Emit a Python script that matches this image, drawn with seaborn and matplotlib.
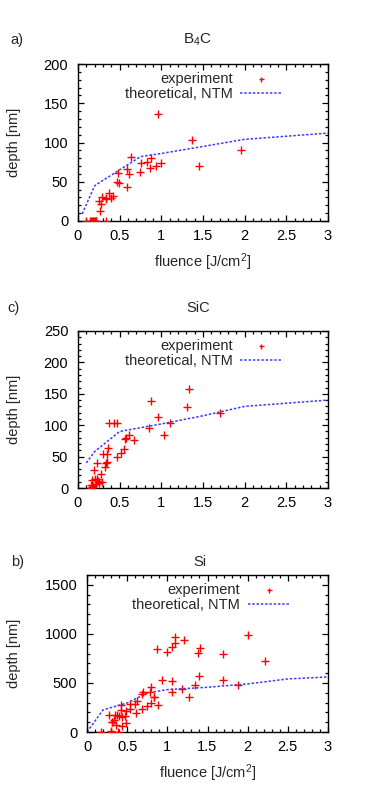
import matplotlib
matplotlib.use("Agg")
import matplotlib.pyplot as plt
import seaborn as sns
import numpy as np
import pandas as pd
from matplotlib.ticker import MultipleLocator

# ---------------- data ----------------
# B4C experiment
b4c_fluence = [0.957, 1.37, 1.96, 1.45, 0.64, 0.874, 0.76, 0.83, 0.99, 0.866, 0.93,
               0.747, 0.584, 0.616, 0.485, 0.469, 0.497, 0.584, 0.37, 0.425, 0.39,
               0.282, 0.334, 0.246, 0.278, 0.266, 0.34,
               0.10, 0.14, 0.16, 0.17, 0.18, 0.19, 0.20, 0.21, 0.22, 0.34]
b4c_depth = [135.7, 103, 90, 70.6, 80.9, 80.4, 73.6, 75.7, 73.6, 68, 69.8,
             62.6, 66.8, 59.6, 61.7, 49.4, 48.5, 43.8, 35.7, 31.9, 29.8,
             31, 28, 25.5, 21.3, 12.8, 29.4,
             0, 0, 0, 0, 0, 0, 0, 0, 0, 0]
b4c_th_fluence = [0.05, 0.2, 0.75, 1.0, 1.5, 2.0, 2.5, 3.0]
b4c_th_depth = [9, 45, 82, 86, 95, 104, 108, 112]

# SiC experiment
sic_fluence = [1.327, 0.874, 1.307, 0.965, 1.70, 1.10, 1.03, 0.846, 0.37, 0.437, 0.47,
               0.616, 0.56, 0.57, 0.675, 0.55, 0.52, 0.465, 0.358, 0.342, 0.294,
               0.35, 0.334, 0.322, 0.226, 0.195, 0.27, 0.167, 0.2, 0.226, 0.24,
               0.29, 0.25, 0.155, 0.16, 0.17, 0.18, 0.21]
sic_depth = [157.7, 139, 129, 113, 120, 104, 85, 95, 104, 104, 104,
             84, 78, 79, 76, 62, 55.6, 49.7, 63.5, 54.5, 54.5,
             41, 39.7, 33, 39.7, 29, 22, 13, 14, 14, 11,
             9.5, 7.4, 5.3, 0, 1, 3, 7]
sic_th_fluence = [0.1, 0.2, 0.5, 1.0, 1.5, 2.0, 3.0]
sic_th_depth = [40, 58, 90, 102, 115, 130, 140]

# Si experiment
si_fluence = [2.0, 2.21, 1.10, 1.21, 1.09, 1.06, 0.873, 1.0, 1.41, 1.38, 1.69,
              0.935, 1.055, 1.39, 1.69, 1.34, 1.18, 1.055, 1.27, 1.88, 0.80,
              0.70, 0.68, 0.79, 0.83, 0.84, 0.80, 0.89, 0.745, 0.69, 0.62,
              0.595, 0.53, 0.54, 0.61, 0.484, 0.42, 0.426, 0.44, 0.393, 0.47,
              0.48, 0.434, 0.277, 0.376, 0.347, 0.33, 0.31, 0.31, 0.356, 0.30,
              0.30, 0.17, 0.385]
si_depth = [986, 728, 966, 935, 908, 867, 843, 813, 857, 806, 792,
            534, 524, 571, 527, 480, 442, 411, 357, 480, 459,
            408, 391, 405, 360, 360, 299, 276, 262, 235, 320,
            289, 286, 231, 194, 218, 279, 221, 153, 163, 167,
            92, 58, 173, 177, 177, 122, 105, 99, 68, 14,
            0, 0, 0]
si_th_fluence = [0.0, 0.2, 0.5, 0.75, 1.0, 1.5, 2.0, 2.5, 3.0]
si_th_depth = [0, 225, 296, 398, 432, 456, 490, 541, 561]

x_ticks = [0, 0.5, 1, 1.5, 2, 2.5, 3]
x_ticklabels = ["0", "0.5", "1", "1.5", "2", "2.5", "3"]

# ---------------- style ----------------
sns.set_style("ticks")
plt.rcParams["font.family"] = ["Liberation Sans", "DejaVu Sans"]
plt.rcParams["font.size"] = 10
plt.rcParams["mathtext.fontset"] = "custom"
plt.rcParams["mathtext.rm"] = "Liberation Sans"
plt.rcParams["mathtext.it"] = "Liberation Sans"

W, H = 382, 801
fig = plt.figure(figsize=(W / 100, H / 100), dpi=100)

def px_axes(left, top, right, bottom):
    return fig.add_axes([left / W, 1 - bottom / H, (right - left) / W, (bottom - top) / H])

RED = "#ff0000"
BLUE = "#3a3aff"
FS = 10.5

def panel(ax, fx, dy, tx, ty, ymax, ymaj, ymin_step, xlabel, leg_x):
    df_e = pd.DataFrame({"fluence": fx, "depth": dy})
    df_t = pd.DataFrame({"fluence": tx, "depth": ty})
    sns.scatterplot(data=df_e, x="fluence", y="depth", ax=ax, marker="+",
                    color=RED, s=36, linewidth=1.0, label="experiment", zorder=3)
    sns.lineplot(data=df_t, x="fluence", y="depth", ax=ax, color=BLUE,
                 linewidth=1.1, linestyle=(0, (1.6, 1.2)), label="theoretical, NTM",
                 sort=False, zorder=2)
    ax.set_xlim(0, 3)
    ax.set_ylim(0, ymax)
    ax.set_xticks(x_ticks)
    ax.set_xticklabels(x_ticklabels)
    ax.yaxis.set_major_locator(MultipleLocator(ymaj))
    ax.xaxis.set_minor_locator(MultipleLocator(0.1))
    ax.yaxis.set_minor_locator(MultipleLocator(ymin_step))
    ax.tick_params(which="both", direction="in", top=True, right=True,
                   width=0.9, colors="black", labelsize=FS)
    ax.tick_params(which="major", length=4.5, pad=6)
    ax.tick_params(which="minor", length=2.3)
    ax.tick_params(axis="y", pad=7)
    for s in ax.spines.values():
        s.set_visible(True)
        s.set_linewidth(1.0)
        s.set_color("black")
    if xlabel:
        ax.set_xlabel("fluence [J/cm$^2$]", fontsize=FS, labelpad=6)
    else:
        ax.set_xlabel("")
    ax.set_ylabel("depth [nm]", fontsize=FS)
    ax.legend(loc="upper right", bbox_to_anchor=(leg_x, 1.0), frameon=False,
              markerfirst=False, handlelength=2.9, handletextpad=0.5,
              labelspacing=0.05, borderaxespad=0.15, fontsize=FS, markerscale=0.6)
    return ax

ax_a = px_axes(78, 64, 328, 221)
panel(ax_a, b4c_fluence, b4c_depth, b4c_th_fluence, b4c_th_depth, 200, 50, 10, True, 0.85)
ax_c = px_axes(78, 331, 328, 488)
panel(ax_c, sic_fluence, sic_depth, sic_th_fluence, sic_th_depth, 250, 50, 10, False, 0.85)
ax_b = px_axes(87, 575, 328, 732)
panel(ax_b, si_fluence, si_depth, si_th_fluence, si_th_depth, 1600, 500, 100, True, 0.875)

# y labels centred near x = 15 px
for ax, left, right in ((ax_a, 78, 328), (ax_c, 78, 328), (ax_b, 87, 328)):
    ax.yaxis.set_label_coords((21 - left) / (right - left), 0.5)

# titles and panel letters
fig.text(198 / W, 1 - 40 / H, "B$_4$C", ha="center", va="center", fontsize=11)
fig.text(10 / W, 1 - 40 / H, "a)", ha="left", va="center", fontsize=FS)
fig.text(198 / W, 1 - 308 / H, "SiC", ha="center", va="center", fontsize=FS)
fig.text(7 / W, 1 - 308 / H, "c)", ha="left", va="center", fontsize=FS)
fig.text(200 / W, 1 - 562 / H, "Si", ha="center", va="center", fontsize=FS)
fig.text(11 / W, 1 - 562 / H, "b)", ha="left", va="center", fontsize=FS)

fig.savefig("out.png", dpi=100, facecolor="white")
